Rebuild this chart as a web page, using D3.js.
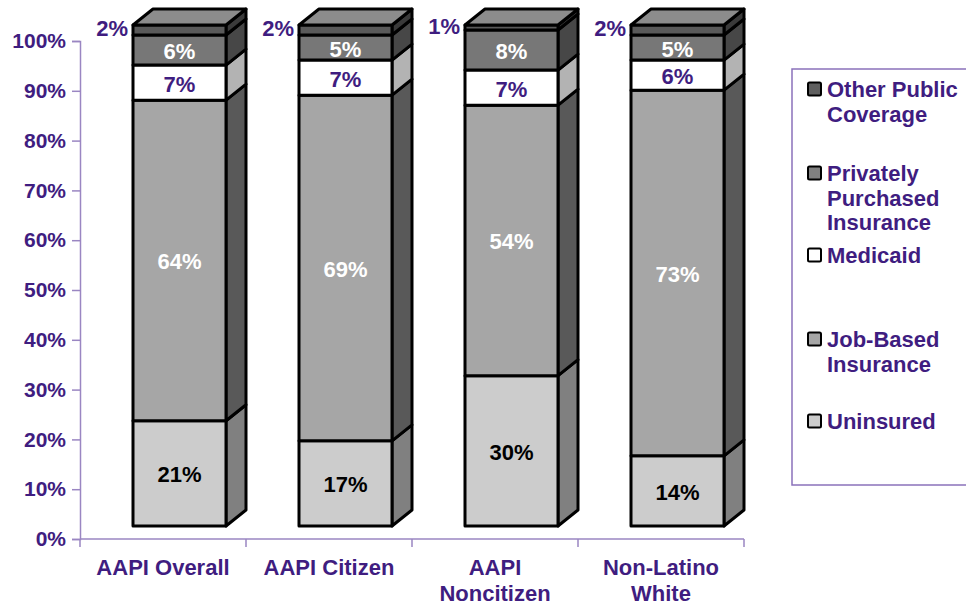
<!DOCTYPE html>
<html>
<head>
<meta charset="utf-8">
<script src="https://cdn.jsdelivr.net/npm/d3@7"></script>
<style>
  html, body { margin: 0; padding: 0; background: #fff; }
  svg { display: block; font-family: "Liberation Sans", Arial, sans-serif; font-weight: bold; }
</style>
</head>
<body>
<svg id="chart" width="966" height="607"></svg>
<script>
// Health coverage shares (%) by group
const categories = [["AAPI Overall"], ["AAPI Citizen"], ["AAPI", "Noncitizen"], ["Non-Latino", "White"]];
const uninsured   = [21, 17, 30, 14];
const jobBased    = [64, 69, 54, 73];
const medicaid    = [7, 7, 7, 6];
const privatePurchased = [6, 5, 8, 5];
const otherPublic = [2, 2, 1, 2];
const yTicks = [0, 10, 20, 30, 40, 50, 60, 70, 80, 90, 100];

const seriesNames = ["Uninsured", "Job-Based Insurance", "Medicaid", "Privately Purchased Insurance", "Other Public Coverage"];
const seriesValues = [uninsured, jobBased, medicaid, privatePurchased, otherPublic];
const frontColors = ["#cccccc", "#a6a6a6", "#ffffff", "#777777", "#5a5a5a"];
const sideColors  = ["#808080", "#595959", "#b3b3b3", "#474747", "#3a3a3a"];
const labelColors = ["#000000", "#ffffff", "#3f1d80", "#ffffff", "#3f1d80"];
const topColor = "#8c8c8c";
const purple = "#3f1d80";
const axisColor = "#9a86c2";
const fontSize = 22;

const svg = d3.select("#chart");

const x = d3.scaleBand().domain(d3.range(categories.length)).range([80, 744]).paddingInner(0).paddingOuter(0);
const y = d3.scaleLinear().domain([0, 100]).range([539, 41]);
// front faces of the 3D columns sit slightly above the axis floor
const yFront = d3.scaleLinear().domain([0, 100]).range([526, 25]);
const depthX = 20, depthY = -16;
const faceOffset = 53, faceWidth = 93;

// axes
const yAxis = d3.axisLeft(y).tickValues(yTicks).tickFormat(d => d + "%").tickSize(8).tickPadding(6);
const gy = svg.append("g").attr("transform", "translate(80,0)").call(yAxis);
gy.select(".domain").attr("stroke", axisColor).attr("stroke-width", 1.5);
gy.selectAll(".tick line").attr("stroke", axisColor).attr("stroke-width", 1.5);
gy.selectAll(".tick text").attr("fill", purple).attr("font-size", 21).attr("font-weight", "bold")
  .attr("font-family", "Liberation Sans, Arial, sans-serif");

const gx = svg.append("g");
gx.append("line").attr("x1", 80).attr("x2", 744).attr("y1", y(0)).attr("y2", y(0))
  .attr("stroke", axisColor).attr("stroke-width", 1.5);
gx.selectAll("line.tk").data(d3.range(categories.length + 1)).enter().append("line")
  .attr("class", "tk")
  .attr("x1", i => 80 + i * x.bandwidth()).attr("x2", i => 80 + i * x.bandwidth())
  .attr("y1", y(0)).attr("y2", y(0) + 8)
  .attr("stroke", axisColor).attr("stroke-width", 1.5);
categories.forEach((lines, i) => {
  const t = gx.append("text").attr("x", x(i) + x.bandwidth() / 2).attr("y", 575)
    .attr("text-anchor", "middle").attr("fill", purple).attr("font-size", fontSize);
  lines.forEach((ln, j) => t.append("tspan").attr("x", x(i) + x.bandwidth() / 2).attr("dy", j === 0 ? 0 : 26).text(ln));
});

// stacked 3D columns
const bars = svg.append("g");
categories.forEach((c, i) => {
  const x0 = x(i) + faceOffset, x1 = x0 + faceWidth;
  let cum = 0;
  seriesValues.forEach((vals, s) => {
    const v = vals[i];
    const yb = yFront(cum), yt = yFront(cum + v);
    cum += v;
    const g = bars.append("g");
    // side face
    g.append("path")
      .attr("d", `M${x1},${yt} L${x1 + depthX},${yt + depthY} L${x1 + depthX},${yb + depthY} L${x1},${yb} Z`)
      .attr("fill", sideColors[s]).attr("stroke", "#000").attr("stroke-width", 3).attr("stroke-linejoin", "round");
    // front face
    g.append("rect").attr("x", x0).attr("y", yt).attr("width", faceWidth).attr("height", yb - yt)
      .attr("fill", frontColors[s]).attr("stroke", "#000").attr("stroke-width", 3).attr("stroke-linejoin", "round");
    if (s === seriesValues.length - 1) {
      // top face
      g.append("path")
        .attr("d", `M${x0},${yt} L${x0 + depthX},${yt + depthY} L${x1 + depthX},${yt + depthY} L${x1},${yt} Z`)
        .attr("fill", topColor).attr("stroke", "#000").attr("stroke-width", 3).attr("stroke-linejoin", "round");
      svg.append("text").attr("x", x0 - 5).attr("y", (yt + yb) / 2 + 6)
        .attr("text-anchor", "end").attr("fill", purple).attr("font-size", fontSize).text(v + "%");
    } else {
      svg.append("text").attr("x", x0 + faceWidth / 2).attr("y", (yt + yb) / 2 + 9)
        .attr("text-anchor", "middle").attr("fill", labelColors[s]).attr("font-size", fontSize).text(v + "%");
    }
  });
});

// legend
const legendItems = [
  { s: 4, lines: ["Other Public", "Coverage"], y: 89 },
  { s: 3, lines: ["Privately", "Purchased", "Insurance"], y: 173 },
  { s: 2, lines: ["Medicaid"], y: 255 },
  { s: 1, lines: ["Job-Based", "Insurance"], y: 339 },
  { s: 0, lines: ["Uninsured"], y: 421 }
];
const legendFill = ["#cccccc", "#a6a6a6", "#ffffff", "#808080", "#5f5f5f"];
const lg = svg.append("g");
lg.append("rect").attr("x", 792).attr("y", 69).attr("width", 200).attr("height", 416)
  .attr("fill", "none").attr("stroke", "#8a72ba").attr("stroke-width", 1.5);
legendItems.forEach(it => {
  lg.append("rect").attr("x", 808).attr("y", it.y - 6.5).attr("width", 13).attr("height", 13)
    .attr("rx", 1.5).attr("fill", legendFill[it.s]).attr("stroke", "#000").attr("stroke-width", 2);
  const t = lg.append("text").attr("x", 827).attr("y", it.y + 8).attr("fill", purple).attr("font-size", fontSize);
  it.lines.forEach((ln, j) => t.append("tspan").attr("x", 827).attr("dy", j === 0 ? 0 : 24.5).text(ln));
});
</script>
</body>
</html>
